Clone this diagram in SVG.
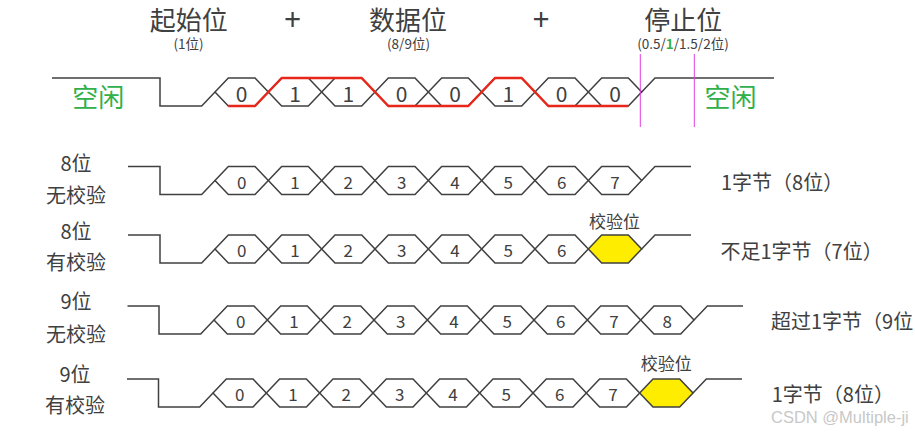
<svg xmlns="http://www.w3.org/2000/svg" xmlns:xlink="http://www.w3.org/1999/xlink" width="915" height="432" viewBox="0 0 915 432">
<style>
text{font-family:"Noto Sans CJK SC","Noto Sans",sans-serif;fill:#404040;dominant-baseline:central}
.t{font-size:26px;text-anchor:middle}
.plus{font-family:"Noto Sans",sans-serif;font-size:30px;text-anchor:middle}
.s{font-size:13.5px;text-anchor:middle}
.idle{font-size:26px;fill:#30b04a;text-anchor:middle}
.d0{font-size:21px;text-anchor:middle}
.d{font-size:17px;text-anchor:middle}
.lab{font-size:20px;text-anchor:middle}
.r{font-size:20px}
.p{font-size:17px;text-anchor:middle}
.w{font-family:"Liberation Sans",Arial,sans-serif;font-size:16.5px;fill:#c8c8c8}
.line{fill:none;stroke:#404040;stroke-width:1.5}
.c{fill:none;stroke:#404040;stroke-width:1.5}
.y{fill:#ffed00;stroke:#404040;stroke-width:1.5}
.red{fill:none;stroke:#e8261a;stroke-width:2.5;stroke-linejoin:round}
.mg{stroke:#e43ee4;stroke-width:1}
</style>
<defs>
<polygon id="hex" points="0,0 13.33,-14 40,-14 53.33,0 40,14 13.33,14"/>
</defs>

<g id="titles">
<text class="t" x="188.7" y="18">起始位</text>
<text class="s" x="188.5" y="43">(1位)</text>
<text class="plus" x="292.5" y="18.7">+</text>
<text class="t" x="408" y="18">数据位</text>
<text class="s" x="408.5" y="43">(8/9位)</text>
<text class="plus" x="541" y="18.7">+</text>
<text class="t" x="683.3" y="18">停止位</text>
<text class="s" x="683" y="43">(0.5/<tspan style="fill:#30b04a;font-weight:bold">1</tspan>/1.5/2位)</text>
</g>

<g id="row-top">
<text class="idle" x="98.3" y="95.5">空闲</text>
<text class="idle" x="730.5" y="95.5">空闲</text>
<path class="line" d="M52,78 H160 V106 H201.67 L215,92 M641.67,92 L655,78 H774"/>
<g class="c">
<use xlink:href="#hex" x="215" y="92"/>
<use xlink:href="#hex" x="268.33" y="92"/>
<use xlink:href="#hex" x="321.67" y="92"/>
<use xlink:href="#hex" x="375" y="92"/>
<use xlink:href="#hex" x="428.33" y="92"/>
<use xlink:href="#hex" x="481.67" y="92"/>
<use xlink:href="#hex" x="535" y="92"/>
<use xlink:href="#hex" x="588.33" y="92"/>
</g>
<path class="red" d="M228.33,106 H255 L281.67,78 H361.67 L388.33,106 H468.33 L495,78 H521.67 L548.33,106 H628.33"/>
<g>
<text class="d0" x="241.67" y="92.5">0</text>
<text class="d0" x="295" y="92.5">1</text>
<text class="d0" x="348.33" y="92.5">1</text>
<text class="d0" x="401.67" y="92.5">0</text>
<text class="d0" x="455" y="92.5">0</text>
<text class="d0" x="508.33" y="92.5">1</text>
<text class="d0" x="561.67" y="92.5">0</text>
<text class="d0" x="615" y="92.5">0</text>
</g>
<line class="mg" x1="640.3" y1="54" x2="640.3" y2="127"/>
<line class="mg" x1="694.3" y1="54" x2="694.3" y2="127"/>
</g>

<g id="row-8-none">
<text class="lab" x="76" y="162.8">8位</text>
<text class="lab" x="76" y="194">无校验</text>
<path class="line" d="M128,166.5 H160 V194.5 H201.67 L215,180.5 M641.67,180.5 L655,166.5 H691"/>
<g class="c">
<use xlink:href="#hex" x="215" y="180.5"/>
<use xlink:href="#hex" x="268.33" y="180.5"/>
<use xlink:href="#hex" x="321.67" y="180.5"/>
<use xlink:href="#hex" x="375" y="180.5"/>
<use xlink:href="#hex" x="428.33" y="180.5"/>
<use xlink:href="#hex" x="481.67" y="180.5"/>
<use xlink:href="#hex" x="535" y="180.5"/>
<use xlink:href="#hex" x="588.33" y="180.5"/>
</g>
<text class="d" x="241.67" y="181">0</text>
<text class="d" x="295" y="181">1</text>
<text class="d" x="348.33" y="181">2</text>
<text class="d" x="401.67" y="181">3</text>
<text class="d" x="455" y="181">4</text>
<text class="d" x="508.33" y="181">5</text>
<text class="d" x="561.67" y="181">6</text>
<text class="d" x="615" y="181">7</text>
<text class="r" x="721" y="181.7">1字节（8位）</text>
</g>

<g id="row-8-parity">
<text class="lab" x="76" y="230.8">8位</text>
<text class="lab" x="76" y="261.7">有校验</text>
<path class="line" d="M128,235 H160 V263 H201.67 L215,249 M641.67,249 L655,235 H691"/>
<g class="c">
<use xlink:href="#hex" x="215" y="249"/>
<use xlink:href="#hex" x="268.33" y="249"/>
<use xlink:href="#hex" x="321.67" y="249"/>
<use xlink:href="#hex" x="375" y="249"/>
<use xlink:href="#hex" x="428.33" y="249"/>
<use xlink:href="#hex" x="481.67" y="249"/>
<use xlink:href="#hex" x="535" y="249"/>
</g>
<use class="y" xlink:href="#hex" x="588.33" y="249"/>
<text class="d" x="241.67" y="249.5">0</text>
<text class="d" x="295" y="249.5">1</text>
<text class="d" x="348.33" y="249.5">2</text>
<text class="d" x="401.67" y="249.5">3</text>
<text class="d" x="455" y="249.5">4</text>
<text class="d" x="508.33" y="249.5">5</text>
<text class="d" x="561.67" y="249.5">6</text>
<text class="p" x="614.5" y="220">校验位</text>
<text class="r" x="720.5" y="250">不足1字节（7位）</text>
</g>

<g id="row-9-none">
<text class="lab" x="76" y="300.8">9位</text>
<text class="lab" x="76" y="333">无校验</text>
<path class="line" d="M127.5,306 H159 V334 H200.67 L214,320 M694,320 L707.33,306 H743"/>
<g class="c">
<use xlink:href="#hex" x="214" y="320"/>
<use xlink:href="#hex" x="267.33" y="320"/>
<use xlink:href="#hex" x="320.67" y="320"/>
<use xlink:href="#hex" x="374" y="320"/>
<use xlink:href="#hex" x="427.33" y="320"/>
<use xlink:href="#hex" x="480.67" y="320"/>
<use xlink:href="#hex" x="534" y="320"/>
<use xlink:href="#hex" x="587.33" y="320"/>
<use xlink:href="#hex" x="640.67" y="320"/>
</g>
<text class="d" x="240.67" y="320.5">0</text>
<text class="d" x="294" y="320.5">1</text>
<text class="d" x="347.33" y="320.5">2</text>
<text class="d" x="400.67" y="320.5">3</text>
<text class="d" x="454" y="320.5">4</text>
<text class="d" x="507.33" y="320.5">5</text>
<text class="d" x="560.67" y="320.5">6</text>
<text class="d" x="614" y="320.5">7</text>
<text class="d" x="667.33" y="320.5">8</text>
<text class="r" x="771" y="320.7">超过1字节（9位</text>
</g>

<g id="row-9-parity">
<text class="lab" x="75" y="373.3">9位</text>
<text class="lab" x="75" y="404.2">有校验</text>
<path class="line" d="M127,379 H158.5 V407 H199.67 L213,393 M693,393 L706.33,379 H742"/>
<g class="c">
<use xlink:href="#hex" x="213" y="393"/>
<use xlink:href="#hex" x="266.33" y="393"/>
<use xlink:href="#hex" x="319.67" y="393"/>
<use xlink:href="#hex" x="373" y="393"/>
<use xlink:href="#hex" x="426.33" y="393"/>
<use xlink:href="#hex" x="479.67" y="393"/>
<use xlink:href="#hex" x="533" y="393"/>
<use xlink:href="#hex" x="586.33" y="393"/>
</g>
<use class="y" xlink:href="#hex" x="639.67" y="393"/>
<text class="d" x="239.67" y="393.5">0</text>
<text class="d" x="293" y="393.5">1</text>
<text class="d" x="346.33" y="393.5">2</text>
<text class="d" x="399.67" y="393.5">3</text>
<text class="d" x="453" y="393.5">4</text>
<text class="d" x="506.33" y="393.5">5</text>
<text class="d" x="559.67" y="393.5">6</text>
<text class="d" x="613" y="393.5">7</text>
<text class="p" x="666.3" y="362.3">校验位</text>
<text class="r" x="771.7" y="393.3">1字节（8位）</text>
</g>

<text class="w" x="771" y="416.7">CSDN @Multiple-ji</text>
</svg>
